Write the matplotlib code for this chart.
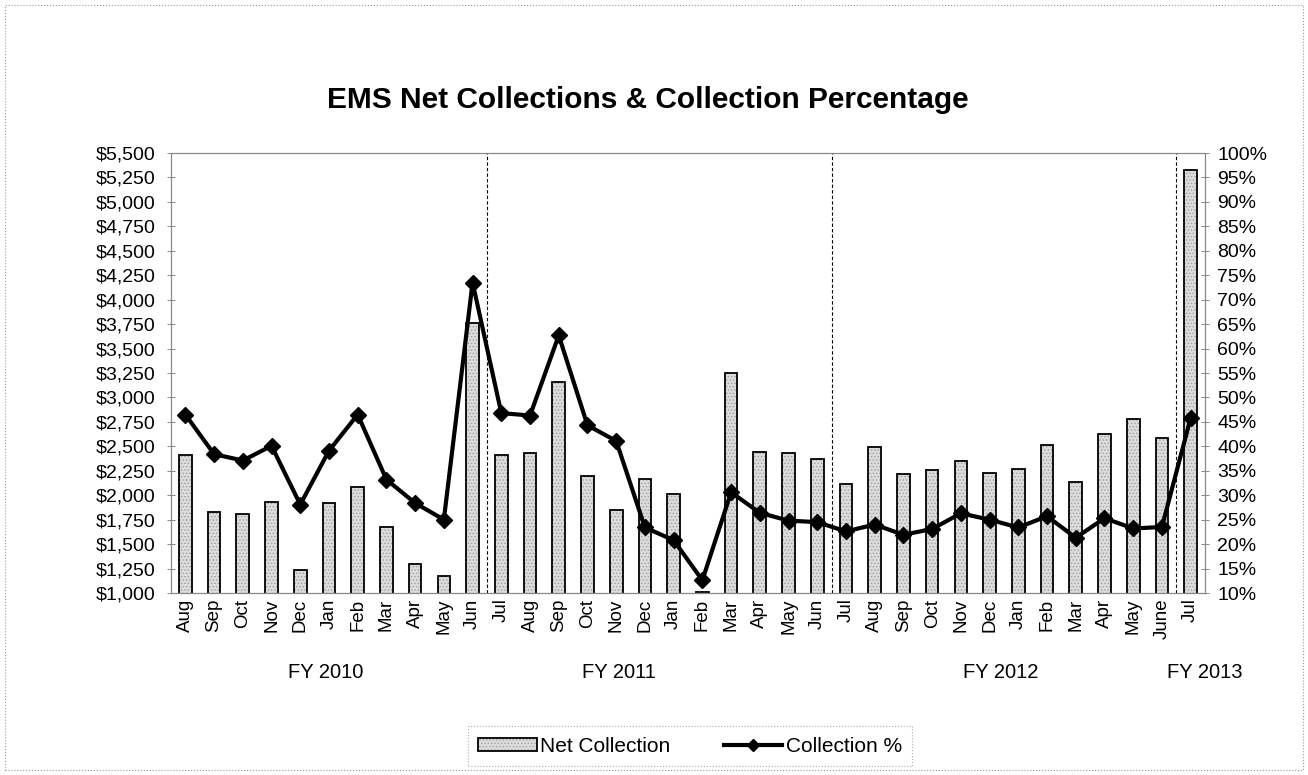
import matplotlib.pyplot as plt
import matplotlib.transforms as mtransforms
from matplotlib.patches import Rectangle, Patch
from matplotlib.lines import Line2D
import numpy as np

plt.rcParams['font.family'] = ['Liberation Sans', 'DejaVu Sans']
plt.rcParams['hatch.linewidth'] = 0.6

# Data
months = ['Aug', 'Sep', 'Oct', 'Nov', 'Dec', 'Jan', 'Feb', 'Mar', 'Apr', 'May', 'Jun',
          'Jul', 'Aug', 'Sep', 'Oct', 'Nov', 'Dec', 'Jan', 'Feb', 'Mar', 'Apr', 'May', 'Jun',
          'Jul', 'Aug', 'Sep', 'Oct', 'Nov', 'Dec', 'Jan', 'Feb', 'Mar', 'Apr', 'May', 'June',
          'Jul']
net_collection = [2410, 1833, 1804, 1929, 1240, 1920, 2083, 1673, 1298, 1176, 3760,
                  2412, 2434, 3161, 2200, 1845, 2161, 2010, 1012, 3252, 2445, 2429, 2374,
                  2115, 2494, 2219, 2258, 2355, 2226, 2265, 2510, 2139, 2629, 2784, 2587,
                  5330]
collection_pct = [46.5, 38.4, 37.1, 40.1, 28.1, 39.1, 46.5, 33.2, 28.4, 25.0, 73.5,
                  46.8, 46.3, 62.7, 44.3, 41.1, 23.4, 20.8, 12.6, 30.6, 26.4, 24.8, 24.5,
                  22.6, 24.0, 21.9, 23.1, 26.3, 25.0, 23.4, 25.7, 21.3, 25.3, 23.2, 23.5,
                  45.8]
fy_labels = ['FY 2010', 'FY 2011', 'FY 2012', 'FY 2013']
fy_pos = [4.9, 15.1, 28.4, 35.5]
fy_breaks = [10.5, 22.5, 34.5]

W, H = 1308, 775
fig = plt.figure(figsize=(W / 100, H / 100), dpi=100)
ax = fig.add_axes([171 / W, 1 - 593 / H, (1205 - 171) / W, (593 - 153) / H])
ax2 = ax.twinx()

x = np.arange(len(months))

# bars: stippled fill, then black outline
ax.bar(x, net_collection, width=0.44, color='#dcdcdc', edgecolor='#a0a0a0',
       linewidth=0, hatch='.....', zorder=2)
ax.bar(x, net_collection, width=0.44, fill=False, edgecolor='black',
       linewidth=1.3, zorder=2)
ax.set_ylim(1000, 5500)
ax.set_xlim(-0.5, len(months) - 0.5)
ax.set_yticks(np.arange(1000, 5501, 250))
ax.set_yticklabels(['${:,}'.format(v) for v in range(1000, 5501, 250)], fontsize=14)
ax.set_xticks(x)
ax.set_xticklabels(months, rotation=90, fontsize=13.5)
ax.tick_params(axis='x', length=0, pad=4)
ax.tick_params(axis='y', direction='inout', length=6, width=0.6, color='#777777', pad=8)

# fiscal year separators
for b in fy_breaks:
    ax.axvline(b, color='black', linewidth=0.8, linestyle=(0, (3, 2)), zorder=1)

# line
ax2.plot(x, np.array(collection_pct) / 100, color='black', linewidth=3,
         marker='D', markersize=8, zorder=3)
ax2.set_ylim(0.10, 1.00)
ax2.set_yticks(np.arange(0.10, 1.001, 0.05))
ax2.set_yticklabels(['{}%'.format(v) for v in range(10, 101, 5)], fontsize=14)
ax2.tick_params(axis='y', direction='inout', length=6, width=0.6, color='#777777', pad=6)

for a in (ax, ax2):
    for s in a.spines.values():
        s.set_color('#888888')
        s.set_linewidth(0.8)

# fiscal year labels
fy_trans = mtransforms.blended_transform_factory(ax.transData, fig.transFigure)
for lab, p in zip(fy_labels, fy_pos):
    fig.text(p, 1 - 673 / H, lab, transform=fy_trans, fontsize=14.5,
             ha='center', va='center')

fig.text(648 / W, 1 - 100 / H, 'EMS Net Collections & Collection Percentage',
         fontsize=21.5, fontweight='bold', ha='center', va='center')

# legend: overlay stipple patch and outline
handles = [(Patch(facecolor='#dcdcdc', edgecolor='#a0a0a0', hatch='.....', linewidth=0),
            Patch(fill=False, edgecolor='black', linewidth=1.3)),
           Line2D([], [], color='black', linewidth=3, marker='D', markersize=6)]
leg = fig.legend(handles, ['Net Collection', 'Collection %'], loc='center',
                 bbox_to_anchor=(690 / W, 1 - 746 / H), ncol=2, fontsize=15,
                 frameon=True, fancybox=False, handlelength=2.8, handleheight=0.6,
                 columnspacing=2.6, handletextpad=0.15, borderpad=0.5)
leg.get_frame().set_edgecolor('#999999')
leg.get_frame().set_linestyle(':')
leg.get_frame().set_linewidth(0.8)

# outer chart border
fig.patches.append(Rectangle((5 / W, 5 / H), 1 - 10 / W, 1 - 10 / H, transform=fig.transFigure,
                             fill=False, edgecolor='#999999', linewidth=0.8, linestyle=':'))

fig.savefig('out.png', dpi=100)
